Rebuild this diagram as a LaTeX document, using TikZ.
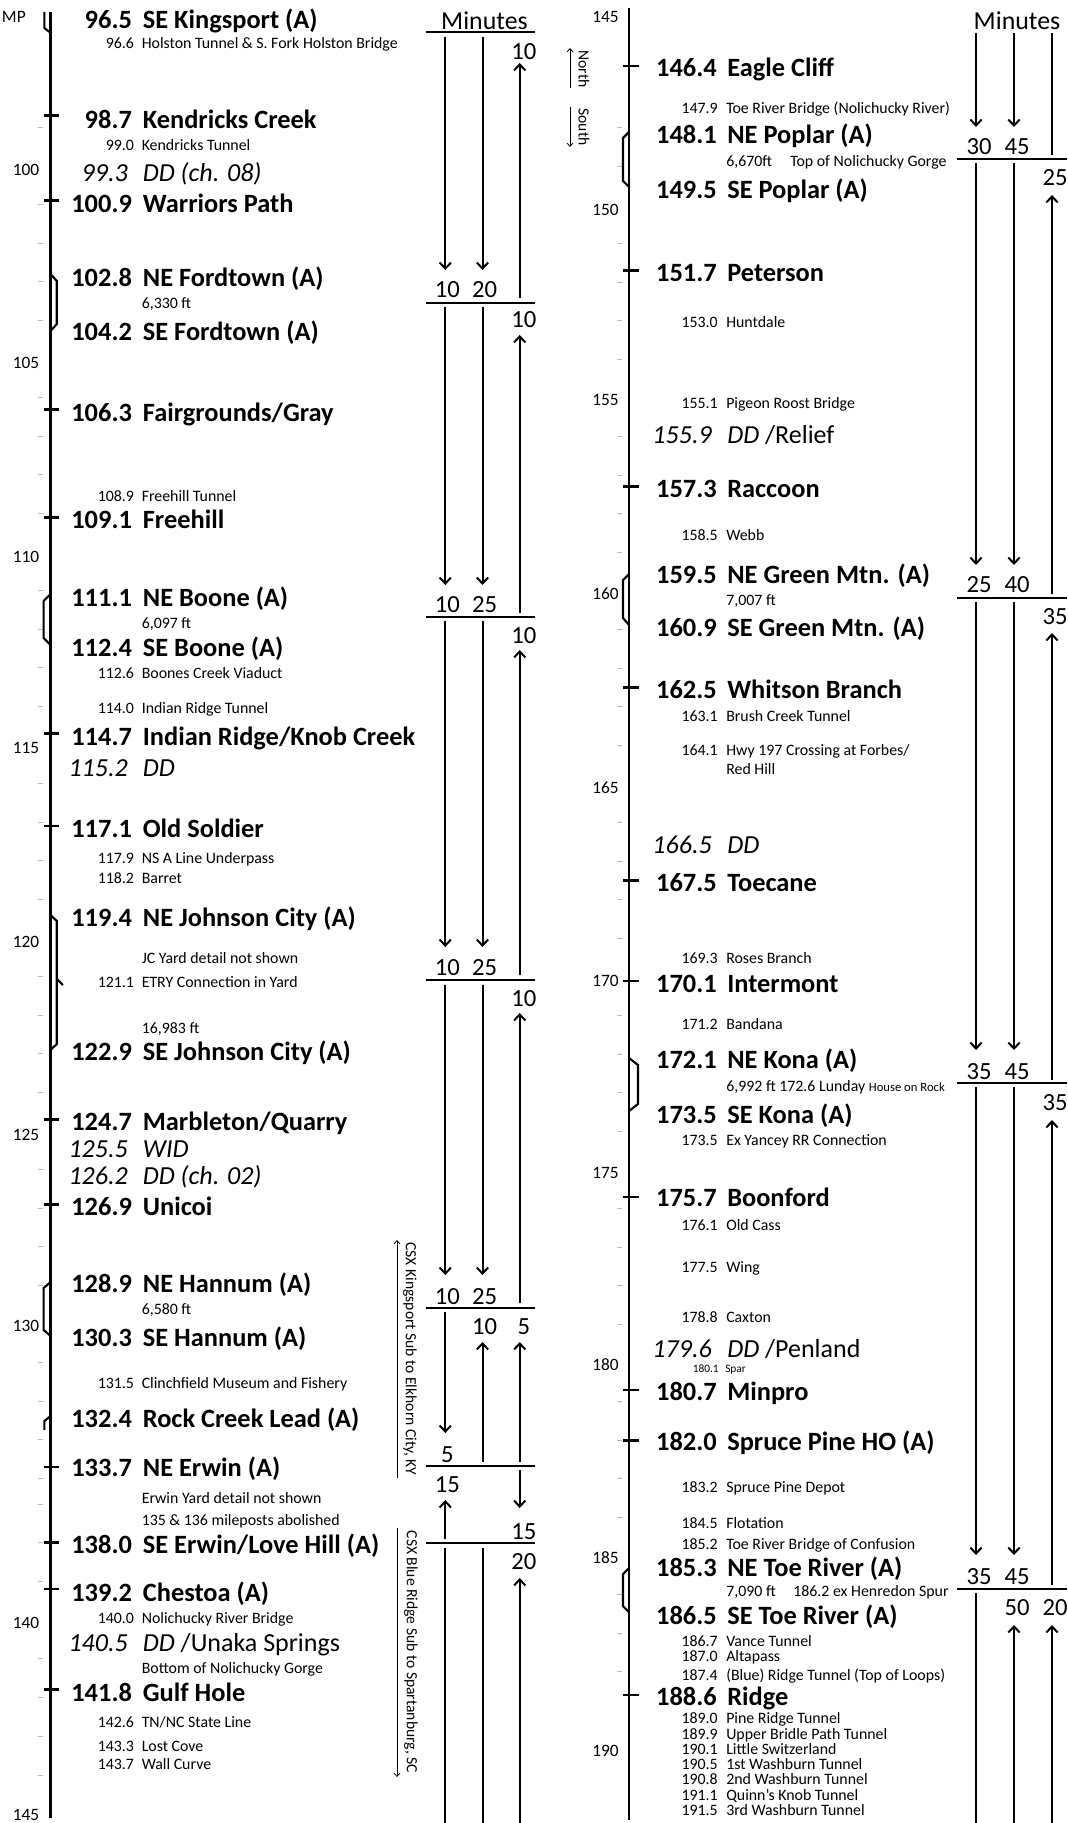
\documentclass[tikz,border=0pt]{standalone}
\usepackage{fontspec}
\setmainfont{Carlito}
\usetikzlibrary{arrows.meta}

\newcommand{\yL}[1]{166+(#1-100)*38.6}
\newcommand{\yLs}[1]{1504+(#1-137)*38.7}
\newcommand{\yR}[1]{977+(#1-170)*38.6}

\begin{document}
\begin{tikzpicture}[x=0.75pt, y=-0.75pt,
    track/.style={line width=2pt},
    siding/.style={line width=1.6pt},
    minor/.style={draw=gray!55, line width=0.6pt},
    stnnum/.style={font=\fontsize{19.8}{21}\selectfont\bfseries, anchor=base east, inner sep=0pt, yshift=-6.3pt},
    stnname/.style={stnnum, anchor=base west},
    itnum/.style={font=\fontsize{19.5}{21}\selectfont\itshape, anchor=base east, inner sep=0pt, yshift=-6.2pt},
    itname/.style={itnum, anchor=base west},
    smnum/.style={font=\fontsize{11.9}{13}\selectfont, anchor=base east, inner sep=0pt, yshift=-3.8pt},
    smname/.style={smnum, anchor=base west},
    tinynum/.style={font=\fontsize{8.5}{10}\selectfont, anchor=base east, inner sep=0pt, yshift=-2.7pt},
    tinyname/.style={tinynum, anchor=base west},
    mplabel/.style={font=\fontsize{13}{14}\selectfont, anchor=east, inner sep=0pt},
    minhead/.style={font=\fontsize{19.4}{21}\selectfont, inner sep=0pt},
    minnum/.style={font=\fontsize{18.5}{20}\selectfont, inner sep=0pt},
    sep/.style={line width=1.8pt},
    minarrow/.style={line width=1.5pt, -{Straight Barb[length=4.5pt,width=8.5pt]}},
    minline/.style={line width=1.5pt},
    sidetext/.style={font=\fontsize{11.7}{13}\selectfont, rotate=-90, inner sep=0pt},
    dirarrow/.style={line width=0.6pt, -{Straight Barb[length=2.5pt,width=4.5pt]}}
  ]
  \useasboundingbox (0,0) rectangle (1067,1823);

  % ---------------- left column: MP 96 to 145 ----------------
  \draw[track] (50.6,12) -- (50.6,1818);
  \foreach \m in {99,101,102,103,104,106,107,108,109,111,112,113,114,116,117,118,119,121,122,123,124,126,127,128,129,131,132,133,134}
    \draw[minor] (38.2,{\yL{\m}}) -- (43.4,{\yL{\m}});
  \foreach \m in {137,138,139,141,142,143,144}
    \draw[minor] (38.2,{\yLs{\m}}) -- (43.4,{\yLs{\m}});
  \foreach \m in {98.7,100.9,106.3,109.1,114.7,117.1,124.7,126.9,133.7}
    \draw[track] (44.4,{\yL{\m}}) -- (58.9,{\yL{\m}});
  \foreach \m in {138.0,139.2,141.8}
    \draw[track] (44.4,{\yLs{\m}}) -- (58.9,{\yLs{\m}});

  % sidings
  \draw[siding] (44.4,12) -- (44.4,28) -- (50.6,33);
  \draw[siding] (50.6,274) -- (56.8,281) -- (56.8,324) -- (50.6,331);
  \draw[siding] (50.6,594) -- (43.6,601) -- (43.6,638) -- (50.6,645);
  \draw[siding] (50.6,915) -- (56.8,921) -- (56.8,1044) -- (50.6,1050);
  \draw[siding] (56.8,979) -- (63,985);
  \draw[siding] (50.6,1282) -- (43.6,1288) -- (43.6,1330) -- (50.6,1336);
  \draw[siding] (50.6,1416) -- (44.4,1421) -- (44.4,1430);

  % mileposts
  \node[mplabel] (LMP) at (26,17) {MP};
  \foreach \y/\t [count=\k] in {170/100, 363/105, 557/110, 748/115, 942/120, 1135/125, 1326/130, 1623/140, 1815/145}
    \node[mplabel] (LMP\k) at (39.5,\y) {\t};

  % stations
  \foreach \y/\m/\s [count=\k] in {
      20/96.5/{SE Kingsport (A)},
      120/98.7/{Kendricks Creek},
      204/100.9/{Warriors Path},
      278/102.8/{NE Fordtown (A)},
      332/104.2/{SE Fordtown (A)},
      413/106.3/{Fairgrounds/Gray},
      520/109.1/{Freehill},
      598/111.1/{NE Boone (A)},
      648/112.4/{SE Boone (A)},
      737/114.7/{Indian Ridge/Knob Creek},
      829/117.1/{Old Soldier},
      918/119.4/{NE Johnson City (A)},
      1052/122.9/{SE Johnson City (A)},
      1122/124.7/{Marbleton/Quarry},
      1207/126.9/{Unicoi},
      1284/128.9/{NE Hannum (A)},
      1338/130.3/{SE Hannum (A)},
      1419/132.4/{Rock Creek Lead (A)},
      1468/133.7/{NE Erwin (A)},
      1545/138.0/{SE Erwin/Love Hill (A)},
      1593/139.2/{Chestoa (A)},
      1693/141.8/{Gulf Hole}}{
    \node[stnnum] (LN\k) at (132.2,\y) {\m};
    \node[stnname] (LS\k) at (142.6,\y) {\s};
  }
  \foreach \y/\m/\s [count=\k] in {
      173/99.3/{DD (ch. 08)},
      768/115.2/{DD},
      1149/125.5/{WID},
      1176/126.2/{DD (ch. 02)},
      1643/140.5/{DD {\upshape /Unaka Springs}}}{
    \node[itnum] (LIN\k) at (128.1,\y) {\m};
    \node[itname] (LIS\k) at (142.6,\y) {\s};
  }
  \foreach \y/\m/\s [count=\k] in {
      43/96.6/{Holston Tunnel \& S. Fork Holston Bridge},
      145/99.0/{Kendricks Tunnel},
      496/108.9/{Freehill Tunnel},
      673/112.6/{Boones Creek Viaduct},
      708/114.0/{Indian Ridge Tunnel},
      858/117.9/{NS A Line Underpass},
      878/118.2/{Barret},
      982/121.1/{ETRY Connection in Yard},
      1383/131.5/{Clinchfield Museum and Fishery},
      1618/140.0/{Nolichucky River Bridge},
      1722/142.6/{TN/NC State Line},
      1746/143.3/{Lost Cove},
      1764/143.7/{Wall Curve}}{
    \node[smnum] (LPN\k) at (134.3,\y) {\m};
    \node[smname] (LPS\k) at (141.5,\y) {\s};
  }
  % notes
  \foreach \y/\s [count=\k] in {303/{6,330 ft}, 623/{6,097 ft}, 958/{JC Yard detail not shown},
      1028/{16,983 ft}, 1309/{6,580 ft}, 1498/{Erwin Yard detail not shown},
      1520/{135 \& 136 mileposts abolished}, 1668/{Bottom of Nolichucky Gorge}}
    \node[smname] (LNote\k) at (141.5,\y) {\s};

  % subdivisions
  \node[sidetext] (subKY) at (410,1359) {CSX Kingsport Sub to Elkhorn City, KY};
  \draw[dirarrow] (397,1478) -- (397,1240);
  \node[sidetext] (subSC) at (411,1652) {CSX Blue Ridge Sub to Spartanburg, SC};
  \draw[dirarrow] (397,1528) -- (397,1777);

  % minutes
  \node[minhead] (LMin) at (484.5,21) {Minutes};
  \foreach \y in {32,303,617,980,1308,1466,1543}
    \draw[sep] (425.6,\y) -- (535,\y);
  \foreach \x/\a/\b in {445.3/37/270, 482.5/37/270, 519.7/298/63,
      445.3/307/585, 482.5/307/585, 519.7/613/335,
      445.3/621/947, 482.5/621/947, 519.7/975/650,
      445.3/985/1275, 482.5/985/1275, 519.7/1303/1013,
      445.3/1312/1433, 482.5/1462/1342, 519.7/1462/1342,
      445.3/1539/1500, 519.7/1470/1508,
      519.7/1823/1578}
    \draw[minarrow] (\x,\a) -- (\x,\b);
  \draw[minline] (445.3,1548) -- (445.3,1823);
  \draw[minline] (482.5,1548) -- (482.5,1823);
  \foreach \x/\y/\t [count=\k] in {523.8/52/10, 447.3/290/10, 484.5/290/20,
      523.8/320/10, 447.3/605/10, 484.5/605/25,
      523.8/636/10, 447.3/968/10, 484.5/968/25,
      523.8/999/10, 447.3/1297/10, 484.5/1297/25,
      484.5/1327/10, 523.8/1327/5, 447.3/1455/5,
      447.3/1485/15, 523.8/1532/15, 523.8/1562/20}
    \node[minnum] (LM\k) at (\x,\y) {\t};

  % ---------------- right column: MP 145 to 192 ----------------
  \draw[track] (629,8) -- (629,1820);
  \foreach \m in {148,149,151,152,153,154,156,157,158,159,161,162,163,164,166,167,168,169,171,172,173,174,176,177,178,179,181,182,183,184,186,187,188}
    \draw[minor] (617,{\yR{\m}}) -- (622,{\yR{\m}});
  \foreach \m in {146.4,151.7,157.3,162.5,167.5,170.1,175.7,180.7,182.0,188.6}
    \draw[track] (623,{\yR{\m}}) -- (639,{\yR{\m}});

  % sidings
  \draw[siding] (629,132) -- (623,138) -- (623,181) -- (629,187);
  \draw[siding] (629,574) -- (623,580) -- (623,618) -- (629,625);
  \draw[siding] (629,1058) -- (638,1065) -- (638,1104) -- (629,1111);
  \draw[siding] (629,1568) -- (623,1574) -- (623,1606) -- (629,1612);

  % mileposts
  \foreach \y/\t [count=\k] in {17/145, 210/150, 400/155, 594/160, 788/165, 981/170, 1173/175, 1365/180, 1558/185, 1751/190}
    \node[mplabel] (RMP\k) at (619,\y) {\t};

  % direction
  \node[sidetext] (north) at (584,69) {North};
  \draw[dirarrow] (570,88) -- (570,48);
  \node[sidetext] (south) at (584,127) {South};
  \draw[dirarrow] (570,107) -- (570,147);

  % stations
  \foreach \y/\m/\s [count=\k] in {
      68/146.4/{Eagle Cliff},
      135/148.1/{NE Poplar (A)},
      190/149.5/{SE Poplar (A)},
      273/151.7/{Peterson},
      489/157.3/{Raccoon},
      575/159.5/{NE Green Mtn. (A)},
      628/160.9/{SE Green Mtn. (A)},
      690/162.5/{Whitson Branch},
      883/167.5/{Toecane},
      984/170.1/{Intermont},
      1060/172.1/{NE Kona (A)},
      1115/173.5/{SE Kona (A)},
      1198/175.7/{Boonford},
      1392/180.7/{Minpro},
      1442/182.0/{Spruce Pine HO (A)},
      1568/185.3/{NE Toe River (A)},
      1616/186.5/{SE Toe River (A)},
      1697/188.6/{Ridge}}{
    \node[stnnum] (RN\k) at (717,\y) {\m};
    \node[stnname] (RS\k) at (727,\y) {\s};
  }
  \foreach \y/\m/\s [count=\k] in {
      435/155.9/{DD {\upshape /Relief}},
      845/166.5/{DD},
      1349/179.6/{DD {\upshape /Penland}}}{
    \node[itnum] (RIN\k) at (712,\y) {\m};
    \node[itname] (RIS\k) at (727,\y) {\s};
  }
  \foreach \y/\m/\s [count=\k] in {
      108/147.9/{Toe River Bridge (Nolichucky River)},
      322/153.0/{Huntdale},
      403/155.1/{Pigeon Roost Bridge},
      535/158.5/{Webb},
      716/163.1/{Brush Creek Tunnel},
      750/164.1/{Hwy 197 Crossing at Forbes/},
      958/169.3/{Roses Branch},
      1024/171.2/{Bandana},
      1140/173.5/{Ex Yancey RR Connection},
      1225/176.1/{Old Cass},
      1267/177.5/{Wing},
      1317/178.8/{Caxton},
      1487/183.2/{Spruce Pine Depot},
      1523/184.5/{Flotation},
      1544/185.2/{Toe River Bridge of Confusion},
      1641/186.7/{Vance Tunnel},
      1656/187.0/{Altapass},
      1675/187.4/{(Blue) Ridge Tunnel (Top of Loops)},
      1718/189.0/{Pine Ridge Tunnel},
      1734/189.9/{Upper Bridle Path Tunnel},
      1749/190.1/{Little Switzerland},
      1764/190.5/{1st Washburn Tunnel},
      1779/190.8/{2nd Washburn Tunnel},
      1795/191.1/{Quinn's Knob Tunnel},
      1810/191.5/{3rd Washburn Tunnel}}{
    \node[smnum] (RPN\k) at (718,\y) {\m};
    \node[smname] (RPS\k) at (726,\y) {\s};
  }
  \node[tinynum] (RSparN) at (719,1369) {180.1};
  \node[tinyname] (RSpar) at (725,1369) {Spar};
  % notes
  \foreach \x/\y/\s [count=\k] in {726/769/{Red Hill}, 726/161/{6,670ft}, 790/161/{Top of Nolichucky Gorge},
      726/600/{7,007 ft}, 726/1086/{6,992 ft 172.6 Lunday {\fontsize{9.5}{11}\selectfont House on Rock}},
      726/1591/{7,090 ft}, 793/1591/{186.2 ex Henredon Spur}}
    \node[smname] (RNote\k) at (\x,\y) {\s};

  % minutes
  \node[minhead] (RMin) at (1017,21) {Minutes};
  \foreach \y in {159,598,1083,1589}
    \draw[sep] (957,\y) -- (1067,\y);
  \foreach \x/\a/\b in {976/33/127, 1014/33/127,
      976/163/565, 1014/163/565, 1052/594/195,
      976/602/1050, 1014/602/1050, 1052/1080/633,
      976/1087/1555, 1014/1087/1555, 1052/1585/1120,
      1014/1823/1625, 1052/1823/1625}
    \draw[minarrow] (\x,\a) -- (\x,\b);
  \draw[minline] (1052,33) -- (1052,155);
  \draw[minline] (976,1593) -- (976,1823);
  \foreach \x/\y/\t [count=\k] in {979/147/30, 1017/147/45,
      1055/178/25, 979/585/25, 1017/585/40,
      1055/617/35, 979/1072/35, 1017/1072/45,
      1055/1103/35, 979/1577/35, 1017/1577/45,
      1017/1608/50, 1055/1608/20}
    \node[minnum] (RM\k) at (\x,\y) {\t};
\end{tikzpicture}
\end{document}
